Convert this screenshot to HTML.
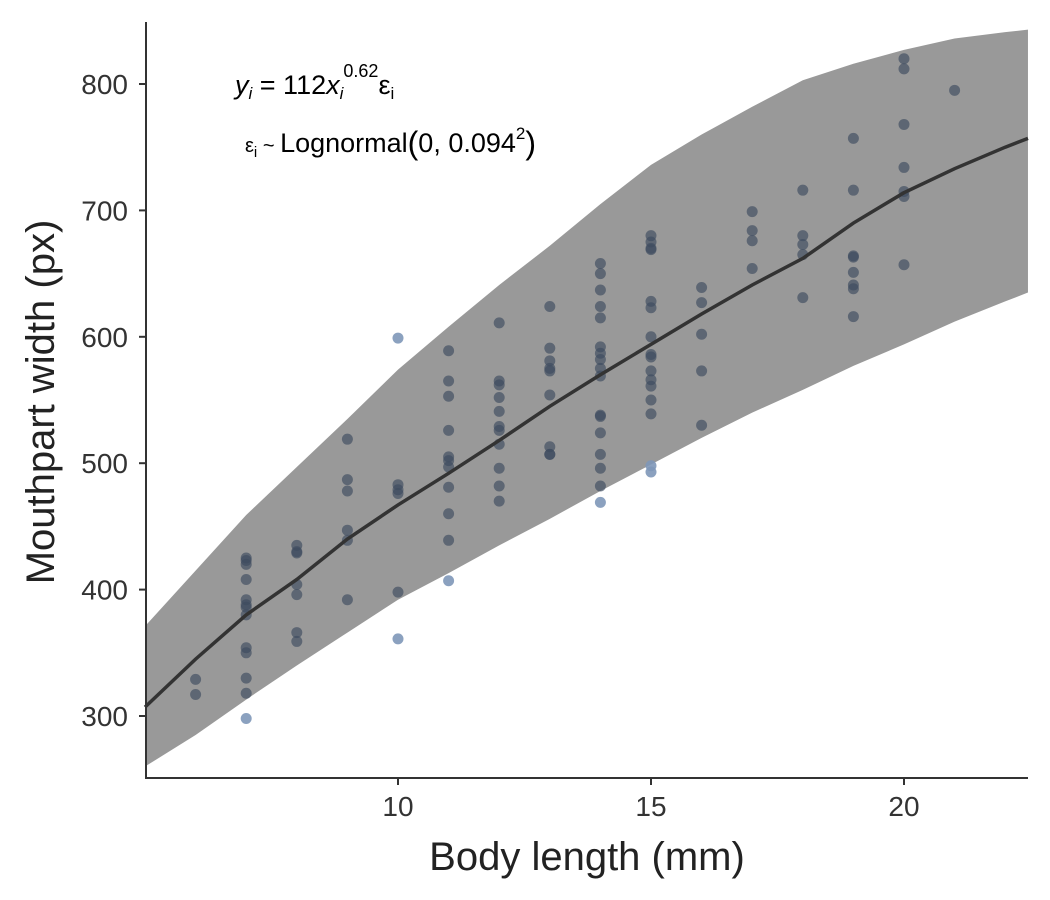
<!DOCTYPE html>
<html><head><meta charset="utf-8"><style>
body{margin:0;background:#fff;}
svg{display:block;font-family:"Liberation Sans",sans-serif;}
</style></head><body>
<svg id="chart" width="1050" height="900"></svg>
<script>
const bandX=[5,6,7,8,9,10,11,12,13,14,15,16,17,18,19,20,21,22,22.45];
const bandUpper=[371,415,459,497,535,574,608,641,672,705,736,760,782,803,816,827,836,841,843];
const bandLower=[260,285,313,340,366,392,413,435,456,478,499,520,540,558,577,594,612,628,635];
const fitLine=[307,345,380,408,440,467,492,518,545,570,594,618,641,662,690,714,733,750,757];
const ptX=[6,6,7,7,7,7,7,7,7,7,7,7,7,7,7,8,8,8,8,8,8,8,9,9,9,9,9,9,10,10,10,10,10,10,
11,11,11,11,11,11,11,11,11,11,11,12,12,12,12,12,12,12,12,12,12,12,13,13,13,13,13,13,13,13,13,
14,14,14,14,14,14,14,14,14,14,14,14,14,14,14,14,14,15,15,15,15,15,15,15,15,15,15,15,15,15,15,15,15,
16,16,16,16,16,17,17,17,17,18,18,18,18,18,19,19,19,19,19,19,19,19,20,20,20,20,20,20,20,21];
const ptY=[329,317,425,423,420,408,392,388,386,380,354,350,330,318,298,435,430,429,404,396,366,359,519,487,478,447,439,392,483,479,476,398,599,361,
589,565,553,526,505,502,497,481,460,439,407,611,565,562,552,541,529,526,515,496,482,470,624,591,581,575,573,554,513,507,507,
658,650,637,624,615,592,587,582,575,569,538,537,524,507,496,482,469,680,675,670,669,628,623,600,586,584,573,566,561,550,539,498,493,
639,627,602,573,530,699,684,676,654,716,680,673,665,631,757,716,664,663,651,641,638,616,820,812,768,734,715,711,657,795];
const xTicks=[10,15,20];
const yTicks=[300,400,500,600,700,800];

const NS="http://www.w3.org/2000/svg";
const svg=document.getElementById('chart');
const sx=v=>398+(v-10)*50.6;
const sy=v=>84+(800-v)*1.264;
function mk(t,a){const e=document.createElementNS(NS,t);for(const k in a)e.setAttribute(k,a[k]);svg.appendChild(e);return e;}
function interp(xs,ys,x){for(let i=0;i<xs.length-1;i++){if(x>=xs[i]&&x<=xs[i+1]){const t=(x-xs[i])/(xs[i+1]-xs[i]);return ys[i]+t*(ys[i+1]-ys[i]);}}return ys[ys.length-1];}

let d='M'+bandX.map((x,i)=>sx(x)+','+sy(bandUpper[i])).join('L');
d+='L'+bandX.map((x,i)=>sx(x)+','+sy(bandLower[i])).reverse().join('L')+'Z';
const band=mk('path',{d:d,fill:'#999999'});



ptX.forEach((x,i)=>{
  const y=ptY[i];
  const out=y>interp(bandX,bandUpper,x)||y<interp(bandX,bandLower,x);
  const c=mk('circle',{cx:sx(x),cy:sy(y),r:5.5,fill:out?'#7e97b8':'#3d4b60','fill-opacity':out?0.9:0.65});
  
  
});

const ln=mk('path',{d:'M'+bandX.map((x,i)=>sx(x)+','+sy(fitLine[i])).join('L'),fill:'none',stroke:'#333',"stroke-width":3.5});



const ax=mk('path',{d:'M146,22L146,778L1028,778',fill:'none',stroke:'#333',"stroke-width":2});



xTicks.forEach(v=>{
  mk('line',{x1:sx(v),x2:sx(v),y1:778,y2:785,stroke:'#333','stroke-width':2});
  const t=mk('text',{x:sx(v),y:816,'text-anchor':'middle','font-size':28,fill:'#333'});t.textContent=v;
  
  
});
yTicks.forEach(v=>{
  mk('line',{x1:139,x2:146,y1:sy(v),y2:sy(v),stroke:'#333','stroke-width':2});
  const t=mk('text',{x:128,y:sy(v)+10,'text-anchor':'end','font-size':28,fill:'#333'});t.textContent=v;
  
  
});
</script>
<svg width="1050" height="900" style="position:absolute;left:0;top:0" font-family="Liberation Sans,sans-serif">
<text x="587" y="870" text-anchor="middle" font-size="40" fill="#222">Body length (mm)</text>
<text transform="translate(54,402) rotate(-90)" text-anchor="middle" font-size="40" fill="#222">Mouthpart width (px)</text>
<text x="235" y="94" font-size="27" fill="#000"><tspan font-style="italic">y</tspan><tspan font-size="17" dy="5" font-style="italic">i</tspan><tspan dy="-5"> = 112</tspan><tspan font-style="italic">x</tspan><tspan font-size="17" dy="5" font-style="italic">i</tspan><tspan font-size="18" dy="-22">0.62</tspan><tspan dy="17">ε</tspan><tspan font-size="17" dy="5">i</tspan></text>
<text x="245" y="152" font-size="27" fill="#000"><tspan font-size="20">ε</tspan><tspan font-size="15" dy="5">i</tspan><tspan dy="-5" font-size="20"> ~ </tspan><tspan>Lognormal</tspan><tspan font-size="32" dy="2">(</tspan><tspan dy="-2">0, 0.094</tspan><tspan font-size="17" dy="-13">2</tspan><tspan font-size="32" dy="15">)</tspan></text>
</svg>
</body></html>
